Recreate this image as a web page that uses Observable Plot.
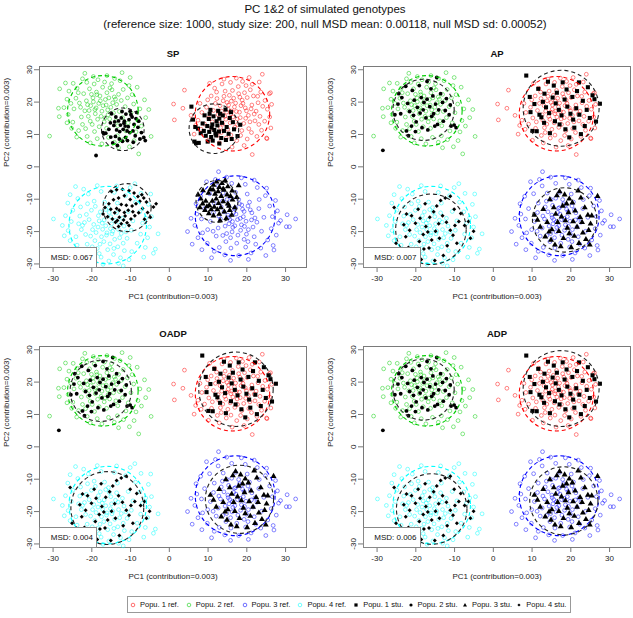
<!DOCTYPE html>
<html><head><meta charset="utf-8">
<script src="https://cdn.jsdelivr.net/npm/d3@7"></script>
<script src="https://cdn.jsdelivr.net/npm/@observablehq/plot@0.6"></script>
<style>
body{margin:0;background:#fff;font-family:"Liberation Sans",Arial,Helvetica,sans-serif;color:#111;}
#wrap{position:relative;width:633px;height:618px;overflow:hidden;background:#fff;}
.abs{position:absolute;}
.title{left:0;width:650px;text-align:center;font-size:11.5px;white-space:nowrap;}
.msd{border:1px solid #888;background:#fff;font-size:8px;text-align:right;box-sizing:border-box;padding-right:3px;line-height:19px;}
.legend{border:1px solid #999;box-sizing:border-box;display:flex;align-items:center;font-size:7.5px;padding-left:1px;white-space:nowrap;}
.legend .it{display:flex;align-items:center;flex:none;overflow:hidden;}
.legend svg{margin-right:3px;flex:none;}
</style></head><body><div id="wrap"></div>
<script>
const panelNames = ["SP", "AP", "OADP", "ADP"];
const msdValues = ["0.067", "0.007", "0.004", "0.006"];
const popNames = ["Popu. 1", "Popu. 2", "Popu. 3", "Popu. 4"];
const popColors = ["#ff0000", "#00cd00", "#0000ff", "#00ffff"];
const studySymbols = ["square", "circle", "triangle", "diamond2"];
const xTicks = [-30, -20, -10, 0, 10, 20, 30];
const yTicks = [-30, -20, -10, 0, 10, 20, 30];
const xLabel = "PC1 (contribution=0.003)";
const yLabel = "PC2 (contribution=0.003)";
const mainTitle = "PC 1&2 of simulated genotypes";
const subTitle = "(reference size: 1000, study size: 200, null MSD mean: 0.00118, null MSD sd: 0.00052)";

// reference samples (same in every panel)
const ref1 = [[15.2,17.8],[16.8,18.5],[18.1,16.9],[14.3,15.6],[17.5,14.8],[19.6,18.2],[13.1,18.9],[16.0,20.3],[20.4,15.9],[12.6,16.1],[15.7,13.6],[18.8,20.6],[14.9,19.9],[17.3,17.1],[21.3,19.1],[13.8,13.2],[19.2,13.4],[16.4,15.4],[11.9,19.6],[20.1,21.4],[15.5,22.1],[17.9,22.6],[22.4,17.2],[14.1,21.8],[18.5,18.9],[12.8,14.3],[16.9,12.2],[20.8,13.9],[19.9,17.3],[13.5,17.2],[15.9,16.4],[17.1,19.7],[21.7,21.9],[18.3,15.2],[14.6,14.7],[16.3,23.6],[19.4,22.9],[12.3,21.1],[22.9,19.8],[13.2,12.1],[20.5,11.8],[17.6,13.1],[15.1,11.6],[18.7,11.2],[21.1,17.9],[14.4,23.4],[16.6,21.2],[19.0,19.6],[23.4,15.6],[11.4,17.4],[22.1,14.2],[17.8,24.8],[20.9,23.8],[13.9,20.4],[15.3,19.1],[18.2,21.5],[16.1,17.2],[19.7,15.0],[14.8,16.9],[21.9,16.3],
[10.2,15.1],[9.6,18.4],[10.8,21.9],[11.7,24.3],[13.6,25.6],[15.8,26.1],[18.9,26.4],[21.4,25.5],[23.6,23.1],[24.7,20.5],[25.3,17.8],[24.6,14.1],[23.8,11.3],[22.6,9.4],[20.1,8.6],[17.4,8.1],[14.7,8.9],[12.4,9.7],[10.9,11.9],[9.1,13.2],[8.4,16.8],[9.9,20.7],[12.2,23.1],[19.8,25.1],[22.8,21.8],[24.1,18.7],[23.1,13.1],[21.2,10.6],[18.4,9.7],[15.9,9.8],[13.4,10.6],[11.1,13.9],[8.2,11.6],[7.4,14.4],[7.9,19.6],[10.4,25.8],[14.1,27.1],[17.3,27.4],[20.6,27.6],[23.2,26.2],[25.8,22.6],[26.4,19.3],[25.9,15.4],[26.2,12.0],[25.1,8.9],[19.3,6.6],[16.2,6.1],[12.9,7.4],[10.1,8.2],[6.8,12.8],[6.4,10.1],[24.0,28.6],[26.1,22.9],[3.9,23.7],[1.1,19.4],[1.3,14.5],[3.5,18.1],[21.4,3.8],[25.2,8.7],[5.6,15.9]];
const ref2 = [[-18.2,19.6],[-16.5,20.8],[-19.7,21.3],[-15.1,18.4],[-17.4,17.2],[-20.3,18.9],[-14.2,21.6],[-18.8,23.1],[-16.1,22.9],[-21.4,20.4],[-13.6,19.3],[-19.1,16.4],[-15.8,16.1],[-22.1,22.6],[-17.2,24.6],[-20.6,24.1],[-14.8,23.8],[-12.9,17.1],[-18.5,14.7],[-16.8,13.9],[-21.8,17.3],[-23.2,19.7],[-13.1,22.4],[-19.9,13.1],[-15.4,14.8],[-17.9,21.9],[-20.9,15.6],[-16.3,19.1],[-18.9,18.2],[-14.4,16.7],[-22.7,15.4],[-12.4,20.5],[-19.4,25.6],[-16.7,26.2],[-21.3,26.1],[-23.8,24.3],[-24.1,21.2],[-11.9,23.9],[-14.9,25.7],[-17.6,15.6],[-20.1,22.4],[-15.6,21.3],[-13.8,14.2],[-18.1,12.4],[-22.4,13.1],[-24.6,17.9],[-11.4,18.6],[-16.2,11.9],[-19.3,10.9],[-21.6,11.8],[-13.3,12.7],[-12.1,15.2],[-10.8,21.3],[-17.1,18.9],[-19.6,20.1],[-23.5,22.9],[-15.3,24.4],[-20.7,17.4],[-18.4,26.9],[-14.1,27.3],
[-17.8,20.4],[-21.1,19.2],[-15.9,17.6],[-18.7,22.3],[-13.9,20.9],[-20.4,14.1],[-16.6,15.1],[-22.9,18.4],[-19.2,17.7],[-14.6,19.8],
[-25.4,19.6],[-25.9,23.4],[-24.8,25.8],[-22.4,27.2],[-19.6,27.9],[-16.1,28.2],[-12.7,26.6],[-10.4,25.1],[-9.6,22.3],[-9.2,19.4],[-9.9,16.7],[-10.6,13.6],[-11.2,11.1],[-13.4,9.6],[-15.7,9.1],[-18.6,8.7],[-21.2,9.4],[-23.4,11.2],[-24.9,13.8],[-26.1,16.2],[-26.4,20.9],[-27.2,18.3],[-23.9,9.2],[-20.4,7.4],[-14.2,7.6],[-11.8,8.4],[-8.6,10.8],[-8.1,14.3],[-7.6,17.9],[-8.3,24.6],[-10.1,27.6],[-26.8,25.9],[-25.2,11.9],[-17.4,7.1],[-13.1,5.9],[-10.3,6.2],[-7.2,12.6],[-6.4,20.7],[-12.2,29.1],[-21.8,28.9],[-30.9,9.5],[-28.3,24.1],[-28.6,18.1],[-28.4,15.5],[-26.4,13.6],[-7.9,4.0],[-4.7,9.4],[-5.3,17.7],[-6.1,15.2],[-9.1,8.1]];
const ref3 = [[17.2,-14.6],[15.6,-16.3],[18.9,-13.1],[14.1,-13.9],[19.8,-16.8],[16.4,-18.7],[13.2,-16.1],[21.3,-14.2],[18.1,-11.4],[15.3,-11.9],[20.4,-19.4],[12.6,-18.9],[22.6,-17.1],[17.7,-21.1],[14.8,-20.6],[19.3,-22.4],[16.1,-9.7],[13.7,-10.6],[20.7,-10.9],[11.4,-14.1],[23.1,-12.9],[18.6,-17.9],[16.8,-12.8],[15.1,-14.9],[19.1,-15.4],[21.9,-21.6],[12.1,-21.4],[17.4,-23.6],[14.6,-23.1],[10.6,-16.9],[23.8,-19.9],[20.1,-8.4],[17.1,-7.9],[13.9,-8.1],[11.6,-11.2],[24.4,-15.6],[9.9,-19.4],[15.9,-25.1],[19.7,-24.8],[22.3,-23.9],[12.9,-24.9],[18.4,-19.6],[16.3,-16.9],[14.4,-18.3],[20.9,-13.3],[17.9,-10.1],[22.1,-15.8],[13.4,-12.4],[19.9,-20.8],[15.8,-21.9],[21.6,-18.6],[11.3,-19.9],[16.6,-14.1],[18.3,-15.9],[14.9,-10.1],[20.3,-12.1],[23.2,-10.1],[17.6,-16.3],[15.4,-17.6],[19.4,-18.4],
[17.1,-12.6],[15.2,-15.7],[19.3,-13.8],[16.2,-20.1],[18.7,-11.8],[12.8,-15.2],[21.2,-16.4],[13.8,-21.2],[20.3,-23.1],[16.9,-18.2],
[9.1,-12.9],[8.3,-16.1],[8.6,-20.4],[9.8,-23.6],[11.6,-26.1],[14.3,-27.2],[17.9,-27.4],[21.1,-26.6],[23.6,-25.1],[25.4,-22.6],[26.3,-19.1],[26.6,-15.4],[25.9,-12.1],[24.8,-8.9],[22.7,-6.4],[19.6,-5.4],[16.1,-5.1],[12.6,-5.9],[10.4,-8.3],[7.1,-14.6],[6.6,-18.1],[7.4,-21.9],[6.9,-11.4],[8.1,-9.1],[11.9,-3.9],[14.8,-3.2],[18.6,-3.4],[21.9,-4.1],[25.1,-6.6],[27.4,-10.4],[27.9,-13.6],[28.2,-17.4],[27.6,-21.1],[26.8,-24.3],[27.0,-25.7],[24.9,-27.4],[20.4,-28.6],[15.8,-28.9],[10.9,-28.1],[8.4,-25.6],[5.9,-23.9],[5.6,-15.9],[4.7,-20.0],[32.6,-16.1],[30.4,-14.8],[30.2,-18.5],[31.0,-18.5],[28.7,-16.6],[12.7,-1.5],[9.6,-4.6]];
const ref4 = [[-16.4,-18.2],[-18.1,-16.7],[-14.6,-19.9],[-19.8,-19.4],[-13.2,-17.1],[-17.5,-21.6],[-15.1,-15.4],[-20.7,-16.3],[-12.4,-20.6],[-16.9,-23.1],[-19.2,-22.8],[-14.1,-22.4],[-21.6,-20.9],[-11.7,-18.3],[-17.8,-13.9],[-15.7,-12.6],[-20.1,-13.4],[-13.6,-14.2],[-22.4,-18.1],[-18.6,-25.2],[-15.9,-25.6],[-13.3,-24.7],[-21.2,-23.9],[-10.9,-22.1],[-23.1,-15.2],[-17.2,-19.3],[-14.9,-17.6],[-19.5,-17.8],[-12.1,-15.9],[-16.2,-21.1],[-18.9,-20.3],[-20.8,-26.4],[-14.4,-27.1],[-11.6,-25.9],[-24.1,-21.6],[-9.8,-19.6],[-22.9,-12.4],[-16.7,-10.9],[-13.4,-11.2],[-19.4,-10.6],[-10.6,-13.8],[-9.4,-16.7],[-23.8,-24.2],[-17.6,-27.9],[-15.3,-23.8],[-18.3,-15.1],[-21.4,-14.7],[-12.8,-21.9],[-16.8,-16.4],[-20.3,-21.4],[-14.8,-20.7],[-17.9,-23.9],[-11.9,-23.6],[-22.7,-19.4],[-13.9,-16.5],[-19.1,-12.2],[-15.5,-14.1],[-21.9,-17.2],[-18.4,-18.6],[-16.1,-20.4],
[-17.3,-17.4],[-15.2,-19.1],[-19.9,-24.7],[-13.1,-19.4],[-21.1,-11.4],[-18.1,-26.8],[-11.2,-20.1],[-23.4,-17.6],[-16.4,-13.2],[-14.3,-25.2],
[-25.3,-16.9],[-26.1,-19.7],[-25.6,-22.8],[-24.9,-13.4],[-23.6,-9.8],[-20.9,-8.4],[-17.6,-7.6],[-14.2,-7.9],[-11.3,-8.9],[-8.7,-10.9],[-7.6,-13.9],[-6.9,-17.4],[-7.4,-20.8],[-8.3,-23.6],[-9.7,-26.2],[-12.6,-28.1],[-15.6,-29.1],[-19.4,-28.6],[-22.6,-27.2],[-24.7,-25.6],[-26.8,-15.1],[-27.1,-21.3],[-22.3,-29.4],[-17.1,-30.1],[-13.1,-29.8],[-10.4,-28.7],[-6.2,-24.9],[-5.6,-21.9],[-5.1,-18.6],[-6.1,-15.8],[-5.4,-11.6],[-7.3,-8.2],[-10.1,-6.4],[-13.6,-5.9],[-18.6,-5.8],[-22.1,-6.9],[-26.2,-11.2],[-25.6,-8.6],[-29.9,-16.1],[-3.6,-25.4],[-4.1,-26.7],[-4.6,-15.4],[-4.8,-8.4],[-2.9,-20.7],[-8.9,-5.2],[-20.4,-30.3],[-27.6,-18.1],[-24.2,-6.1],[-6.6,-27.9],[-11.9,-30.6]];

// study samples as projected under SP
const spStudy1 = [[5.7,18.6],[6.1,14.6],[6.5,7.8],[6.9,7.3],[7.6,7.4],[6.7,12.3],[18.3,13.0],[17.6,9.5],[10.6,17.6],[14.5,17.7],[12.6,17.3],[9.1,15.9],[10.2,14.8],[11.4,15.6],[12.9,14.9],[13.8,15.9],[15.6,15.1],[16.4,13.8],[8.6,13.4],[9.8,12.6],[11.1,13.1],[12.4,12.8],[13.6,13.6],[14.8,12.3],[8.9,11.1],[10.3,10.8],[11.6,11.4],[12.8,10.9],[14.1,11.1],[15.3,10.2],[9.4,9.6],[10.8,9.2],[12.1,9.7],[13.4,8.9],[14.6,8.3],[11.2,8.1],[9.9,7.8],[12.9,7.2],[16.7,11.6],[15.9,16.9],[13.1,16.4],[10.9,12.1],[11.9,10.3],[8.1,10.4],[7.4,11.8],[16.1,8.6],[12.2,14.1],[10.4,16.4]];
const spStudy2 = [[-18.9,3.5],[-17.1,10.6],[-16.4,10.4],[-15.6,11.6],[-14.3,12.8],[-13.1,14.2],[-12.4,15.1],[-11.2,16.3],[-10.1,17.2],[-14.9,16.4],[-9.6,15.4],[-8.6,14.9],[-9.1,13.1],[-10.6,12.4],[-11.9,11.6],[-12.8,10.9],[-13.9,9.4],[-14.6,7.4],[-13.4,6.6],[-12.1,7.9],[-11.3,9.1],[-10.2,10.6],[-9.4,11.1],[-8.1,12.2],[-7.2,10.6],[-6.6,9.1],[-6.2,8.1],[-7.6,8.6],[-8.8,9.6],[-10.8,8.1],[-12.6,12.9],[-13.6,11.4],[-15.2,13.6],[-11.6,14.1],[-10.4,14.6],[-12.2,17.1],[-13.8,15.4],[-16.9,10.2],[-15.1,9.2],[-9.9,16.1],[-11.4,12.6],[-12.9,8.6],[-8.4,16.8],[-10.9,11.1],[-14.1,13.9],[-9.3,7.6],[-7.9,14.1],[-11.7,13.5]];
const spStudy3 = [[7.4,-8.6],[8.1,-9.9],[8.6,-11.4],[7.9,-12.6],[9.2,-13.4],[10.1,-8.1],[10.6,-6.9],[11.4,-5.6],[12.2,-4.6],[12.9,-6.3],[13.6,-5.1],[14.4,-4.2],[15.1,-6.1],[17.9,-5.8],[16.2,-7.4],[14.9,-8.6],[13.4,-9.1],[12.1,-9.9],[11.1,-10.6],[10.3,-11.9],[11.6,-12.4],[12.7,-11.3],[13.9,-10.7],[15.1,-11.4],[16.3,-10.2],[17.4,-9.4],[16.9,-12.6],[15.6,-13.4],[14.2,-13.9],[12.9,-14.6],[11.4,-15.1],[10.2,-14.4],[13.1,-16.6],[14.7,-15.9],[9.4,-10.6],[12.6,-7.6],[11.8,-8.4],[14.1,-7.2],[15.8,-9.1],[9.7,-12.3],[13.3,-12.6],[10.8,-13.2],[16.1,-14.9],[12.4,-13.2],[8.7,-7.3],[13.9,-6.8],[11.3,-7.1],[15.4,-12.1]];
const spStudy4 = [[-14.9,-7.6],[-13.6,-7.1],[-12.1,-6.9],[-10.4,-7.4],[-9.1,-8.1],[-11.6,-8.9],[-13.1,-9.6],[-14.4,-10.2],[-15.6,-11.4],[-16.6,-12.6],[-17.1,-14.6],[-15.9,-15.4],[-14.7,-16.1],[-13.9,-17.1],[-13.1,-18.4],[-12.4,-17.6],[-11.8,-16.4],[-12.9,-15.6],[-11.6,-14.1],[-10.6,-13.4],[-9.6,-12.1],[-8.6,-11.4],[-7.6,-10.6],[-6.6,-9.6],[-5.9,-10.9],[-6.9,-12.9],[-7.9,-14.2],[-8.9,-15.1],[-9.9,-16.1],[-10.9,-17.3],[-3.4,-11.4],[-4.1,-12.4],[-4.9,-15.6],[-5.6,-14.1],[-12.4,-11.6],[-13.6,-12.9],[-10.1,-10.1],[-11.1,-11.9],[-8.1,-9.2],[-14.1,-14.2],[-9.4,-13.9],[-12.9,-13.4],[-15.1,-13.1],[-11.4,-15.2],[-7.1,-8.6],[-13.4,-16.6],[-10.4,-18.1],[-6.4,-16.2]];

// study samples as projected under AP / OADP / ADP
const fullStudy1 = [[8.5,28.2],[27.5,19.5],[26.5,14.0],[22.1,26.1],[21.6,23.4],[10.1,11.1],[11.2,11.0],[14.1,26.3],[15.6,25.1],[9.4,21.6],[10.6,19.4],[9.6,16.9],[11.9,16.1],[12.8,20.1],[13.6,18.4],[14.4,16.6],[15.3,21.4],[16.1,19.6],[16.9,17.6],[17.6,15.9],[18.4,20.8],[19.1,18.6],[19.9,16.4],[20.6,14.6],[21.4,18.1],[22.2,16.1],[23.1,20.4],[24.1,17.6],[24.9,15.1],[23.6,12.6],[20.9,12.1],[18.6,11.6],[17.1,13.1],[15.9,14.1],[13.1,13.6],[12.4,15.3],[16.4,22.9],[18.9,23.9],[20.4,21.6],[25.6,22.1],[26.1,20.9],[22.6,10.1],[19.6,9.1],[14.6,10.4],[17.9,26.1],[13.2,22.6],[24.4,24.6],[11.6,24.1]];
const fullStudy2 = [[-28.5,5.1],[-14.6,27.6],[-17.1,26.4],[-22.6,24.9],[-20.9,23.6],[-23.6,21.4],[-24.6,19.4],[-25.4,16.1],[-23.9,16.4],[-22.1,19.6],[-20.4,20.6],[-19.6,18.4],[-18.6,21.4],[-17.9,19.9],[-17.1,20.9],[-16.4,18.6],[-15.6,21.9],[-14.9,19.4],[-14.1,17.6],[-13.1,19.9],[-12.4,17.4],[-11.4,16.1],[-10.9,12.6],[-10.1,12.9],[-9.6,12.1],[-12.9,14.1],[-14.4,13.1],[-15.9,15.6],[-17.4,15.1],[-18.9,16.6],[-19.9,13.9],[-21.1,12.6],[-22.4,11.1],[-21.9,9.6],[-20.1,10.9],[-18.4,12.1],[-16.9,11.4],[-15.1,12.6],[-13.6,22.6],[-16.1,24.1],[-19.1,25.1],[-21.6,17.1],[-24.4,22.6],[-12.1,21.1],[-11.1,19.1],[-18.1,17.6],[-20.6,15.9],[-15.4,16.4]];
const fullStudy3 = [[10.6,-14.9],[11.4,-16.4],[12.1,-18.6],[13.4,-21.6],[14.4,-20.1],[15.1,-19.4],[14.6,-10.1],[15.6,-12.6],[16.4,-8.9],[17.1,-7.6],[18.4,-8.6],[19.6,-9.9],[20.4,-11.1],[21.9,-7.4],[22.6,-9.6],[26.9,-9.1],[23.6,-12.6],[24.4,-14.9],[25.4,-15.1],[25.1,-17.6],[24.6,-19.6],[23.9,-22.4],[24.9,-24.1],[22.1,-23.6],[20.9,-21.4],[19.6,-20.6],[18.1,-22.1],[17.4,-24.6],[15.9,-24.1],[16.6,-17.1],[17.6,-15.4],[18.6,-16.6],[19.4,-14.1],[20.6,-16.9],[21.6,-18.6],[22.4,-15.6],[16.1,-14.6],[17.9,-12.1],[19.1,-18.9],[21.1,-13.6],[13.9,-17.1],[12.9,-13.1],[14.9,-22.6],[23.1,-20.4],[20.1,-24.9],[18.9,-11.4],[16.9,-19.9],[22.9,-17.1]];
const fullStudy4 = [[-25.6,-12.6],[-25.1,-23.6],[-24.1,-25.9],[-22.6,-21.6],[-21.9,-24.9],[-20.9,-26.4],[-19.6,-27.1],[-18.6,-28.6],[-17.9,-25.4],[-19.1,-23.1],[-18.1,-20.9],[-17.4,-18.4],[-16.4,-15.6],[-15.4,-13.9],[-14.6,-12.1],[-13.6,-10.4],[-12.4,-9.6],[-11.1,-9.1],[-13.1,-15.1],[-12.1,-17.1],[-11.1,-19.6],[-10.4,-21.1],[-9.4,-23.6],[-11.9,-24.4],[-13.9,-22.1],[-14.9,-19.9],[-15.9,-22.6],[-16.6,-25.1],[-20.1,-17.4],[-21.1,-15.1],[-22.4,-14.6],[-23.1,-17.9],[-19.4,-13.1],[-17.6,-11.4],[-8.4,-14.4],[-7.4,-18.1],[-6.4,-16.9],[-5.1,-19.9],[-5.9,-22.1],[-8.9,-16.9],[-10.1,-13.1],[-14.1,-17.6],[-16.9,-20.1],[-18.9,-15.9],[-12.9,-27.4],[-15.1,-28.9],[-9.9,-18.1],[-21.6,-19.6]];

// circles: [centre x, centre y, radius] per population (pop 1..4)
const refCircles = [[16.3,16.4,9.6],[-17.15,17.3,9.1],[17.0,-15.1,10.3],[-15.9,-18.0,10.0]];
const studyCirclesSP   = [[11.5,11.8,6.4],[-12.0,11.6,5.5],[12.3,-10.7,5.4],[-10.9,-12.6,6.2]];
const studyCirclesAP   = [[17.5,18.1,9.8],[-18.0,17.6,7.9],[18.4,-16.4,8.3],[-16.1,-19.3,9.1]];
const studyCirclesOADP = [[17.2,17.8,9.6],[-17.7,17.3,7.9],[18.1,-16.2,8.8],[-16.0,-18.9,9.4]];
const studyCirclesADP  = [[17.5,18.0,9.8],[-18.0,17.7,7.9],[18.2,-16.7,8.8],[-15.9,-19.2,9.1]];

const refPoints = [ref1, ref2, ref3, ref4];
const panelStudy = [
  [spStudy1, spStudy2, spStudy3, spStudy4],
  [fullStudy1, fullStudy2, fullStudy3, fullStudy4],
  [fullStudy1, fullStudy2, fullStudy3, fullStudy4],
  [fullStudy1, fullStudy2, fullStudy3, fullStudy4]
];
const panelStudyCircles = [studyCirclesSP, studyCirclesAP, studyCirclesOADP, studyCirclesADP];

// ---------- layout ----------
const W = 316, H = 270, mL = 39, mR = 10, mT = 26, mB = 43;
const xDom = [-33.5, 35.4], yDom = [-31.1, 31.0];
const pxPerUnit = (W - mL - mR) / (xDom[1] - xDom[0]);
const panelPos = [[0, 40], [323.5, 40], [0, 320], [323.5, 320]];

const wrap = document.getElementById("wrap");

function addDiv(cls, text, style) {
  const d = document.createElement("div");
  d.className = "abs " + cls;
  d.textContent = text;
  Object.assign(d.style, style);
  wrap.appendChild(d);
  return d;
}
addDiv("title", mainTitle, {top: "3px"});
addDiv("title", subTitle, {top: "18px"});

const refRows = refPoints.flatMap((pts, p) => pts.map(([x, y]) => ({x, y, pop: p})));
const refCircleRows = refCircles.map(([x, y, r], p) => ({x, y, r, pop: p}));

panelNames.forEach((name, i) => {
  const studyRows = panelStudy[i].map((pts, p) => pts.map(([x, y]) => ({x, y, pop: p})));
  const studyCircleRows = panelStudyCircles[i].map(([x, y, r], p) => ({x, y, r, pop: p}));
  const marks = [
    Plot.frame({stroke: "#7a7a7a", strokeWidth: 1}),
    Plot.axisX({ticks: xTicks, tickFormat: d => String(d), tickSize: 5, tickPadding: 3, fontSize: 8, label: null, stroke: "#777", color: "#222"}),
    Plot.axisY({ticks: yTicks, tickFormat: d => String(d), tickSize: 5, tickPadding: 3, fontSize: 8, tickRotate: -90, label: null, stroke: "#777", color: "#222"}),
    Plot.dot(refRows, {x: "x", y: "y", r: 1.9, stroke: d => popColors[d.pop], strokeWidth: 0.8, strokeOpacity: 0.6, fill: "none"}),
    ...studyRows.map((rows, p) => Plot.dot(rows, {x: "x", y: "y", r: [2.3, 1.9, 2.2, 1.8][p], symbol: studySymbols[p], fill: "#000", stroke: "none"})),
    Plot.dot(refCircleRows, {x: "x", y: "y", r: "r", stroke: d => popColors[d.pop], strokeWidth: 1.1, strokeDasharray: "4,3", fill: "none"}),
    Plot.dot(studyCircleRows, {x: "x", y: "y", r: "r", stroke: "#222", strokeWidth: 1.1, strokeDasharray: "4,3", fill: "none"}),
    Plot.text([name], {frameAnchor: "top", dy: -16, fontWeight: "bold", fontSize: 9.5, fill: "#111"}),
    Plot.text([xLabel], {frameAnchor: "bottom", dy: 31, fontSize: 8, fill: "#222"}),
    Plot.text([yLabel], {frameAnchor: "left", dx: -33, rotate: -90, fontSize: 8, fill: "#222"})
  ];
  const svg = Plot.plot({
    width: W, height: H,
    marginLeft: mL, marginRight: mR, marginTop: mT, marginBottom: mB,
    style: {fontFamily: '"Liberation Sans", Arial, sans-serif', background: "transparent", overflow: "visible"},
    x: {domain: xDom},
    y: {domain: yDom},
    r: {type: "linear", domain: [0, 10], range: [0, 10 * pxPerUnit]},
    marks
  });
  svg.style.position = "absolute";
  svg.style.left = panelPos[i][0] + "px";
  svg.style.top = panelPos[i][1] + "px";
  wrap.appendChild(svg);
  addDiv("msd", "MSD: " + msdValues[i], {
    left: (panelPos[i][0] + mL) + "px",
    top: (panelPos[i][1] + H - mB - 20) + "px",
    width: "58px", height: "21px"
  });
});

// legend
const leg = document.createElement("div");
leg.className = "abs legend";
Object.assign(leg.style, {left: "127px", top: "596px", width: "444px", height: "17px"});
const symPath = {
  square: '<rect x="2.4" y="2.4" width="3.2" height="3.2" fill="#000"/>',
  circle: '<circle cx="4" cy="4" r="1.6" fill="#000"/>',
  triangle: '<path d="M4,2.1 L6,5.6 L2,5.6 Z" fill="#000"/>',
  diamond2: '<path d="M4,2.4 L5.6,4 L4,5.6 L2.4,4 Z" fill="#000"/>'
};
const items = [
  ...popNames.map((n, p) => ({label: n + " ref.", w: 55.8, svg: `<circle cx="4" cy="4" r="1.8" fill="none" stroke="${popColors[p]}" stroke-opacity="0.7" stroke-width="0.8"/>`})),
  ...popNames.map((n, p) => ({label: n + " stu.", w: 54.4, svg: symPath[studySymbols[p]]}))
];
items.forEach(it => {
  const s = document.createElement("span");
  s.className = "it";
  s.style.width = it.w + "px";
  s.innerHTML = `<svg width="8" height="8" viewBox="0 0 8 8">${it.svg}</svg><span>${it.label}</span>`;
  leg.appendChild(s);
});
wrap.appendChild(leg);
</script></body></html>
